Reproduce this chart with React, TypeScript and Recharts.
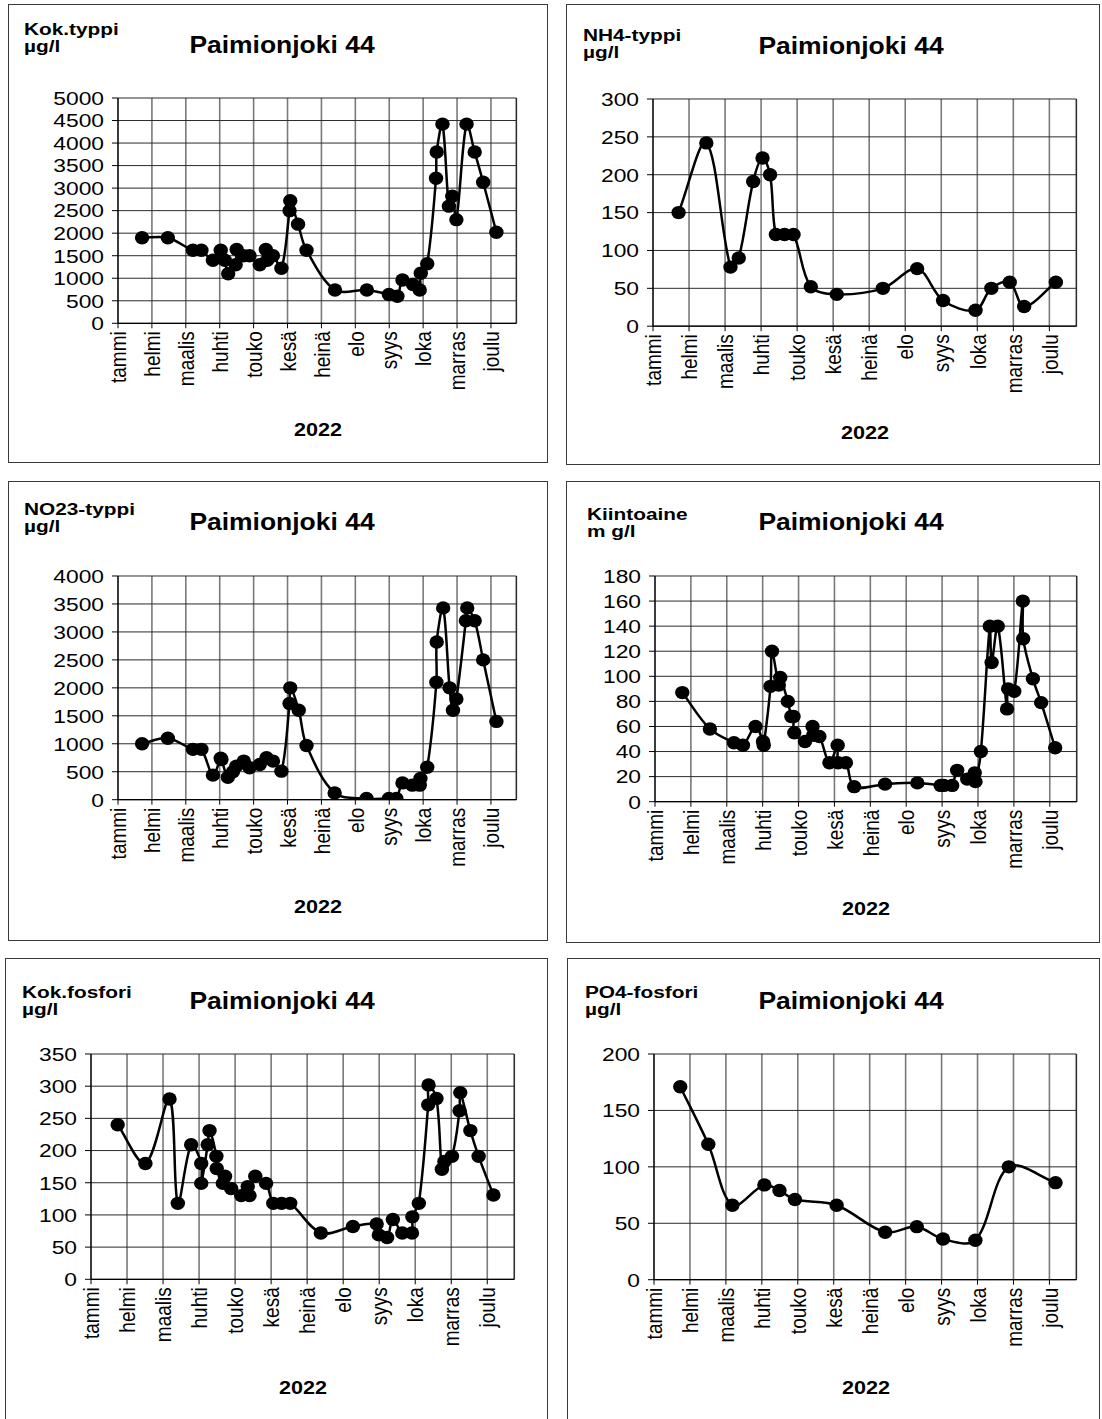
import React from 'react';
import { LineChart, Line, XAxis, YAxis, CartesianGrid, ReferenceLine } from 'recharts';

// ---------- shared labels ----------
const months = ['tammi', 'helmi', 'maalis', 'huhti', 'touko', 'kesä', 'heinä', 'elo', 'syys', 'loka', 'marras', 'joulu'];
const monthTicks = [0, 1, 2, 3, 4, 5, 6, 7, 8, 9, 10, 11];
const X_MAX = 11.75;
const stationTitle = 'Paimionjoki 44';
const yearLabel = '2022';

// ---------- Kok.typpi (µg/l) ----------
const kokTyppiX = [0.71, 1.47, 2.21, 2.46, 2.80, 3.03, 3.15, 3.25, 3.47, 3.50, 3.70, 3.88, 4.18, 4.36, 4.40, 4.57, 4.82, 5.06, 5.08, 5.31, 5.56, 6.40, 7.34, 7.99, 8.24, 8.39, 8.70, 8.90, 8.93, 9.12, 9.38, 9.40, 9.57, 9.76, 9.86, 9.98, 10.28, 10.52, 10.77, 11.16];
const kokTyppiY = [1900, 1900, 1620, 1620, 1400, 1620, 1400, 1100, 1300, 1640, 1500, 1500, 1300, 1640, 1400, 1500, 1220, 2500, 2720, 2200, 1620, 740, 740, 640, 600, 960, 860, 740, 1110, 1320, 3220, 3800, 4420, 2600, 2820, 2300, 4420, 3800, 3130, 2020];
const kokTyppiTicks = [0, 500, 1000, 1500, 2000, 2500, 3000, 3500, 4000, 4500, 5000];

// ---------- NH4-typpi (µg/l) ----------
const nh4X = [0.71, 1.48, 2.15, 2.38, 2.78, 3.04, 3.25, 3.41, 3.65, 3.90, 4.38, 5.10, 6.38, 7.33, 8.05, 8.95, 9.39, 9.90, 10.30, 11.18];
const nh4Y = [150, 242, 78, 90, 191, 222, 200, 121, 121, 121, 52, 42, 50, 76, 34, 21, 50, 58, 26, 58];
const nh4Ticks = [0, 50, 100, 150, 200, 250, 300];

// ---------- NO23-typpi (µg/l) ----------
const no23X = [0.71, 1.47, 2.21, 2.46, 2.80, 3.03, 3.05, 3.24, 3.39, 3.49, 3.71, 3.88, 4.18, 4.38, 4.57, 4.82, 5.06, 5.08, 5.33, 5.56, 6.39, 7.33, 7.99, 8.21, 8.39, 8.68, 8.90, 8.92, 9.12, 9.39, 9.40, 9.59, 9.78, 9.88, 9.98, 10.26, 10.30, 10.52, 10.77, 11.16];
const no23Y = [1000, 1100, 900, 900, 440, 740, 720, 400, 500, 600, 690, 570, 630, 750, 690, 510, 1720, 2000, 1600, 970, 120, 20, 20, 20, 300, 260, 260, 380, 580, 2100, 2820, 3430, 2000, 1600, 1800, 3200, 3430, 3200, 2500, 1400];
const no23Ticks = [0, 500, 1000, 1500, 2000, 2500, 3000, 3500, 4000];

// ---------- Kiintoaine (mg/l) ----------
const kiintoX = [0.76, 1.53, 2.20, 2.45, 2.80, 3.01, 3.03, 3.22, 3.26, 3.45, 3.49, 3.70, 3.80, 3.86, 3.88, 4.18, 4.39, 4.41, 4.58, 4.86, 5.09, 5.10, 5.32, 5.55, 6.41, 7.31, 7.96, 8.05, 8.28, 8.42, 8.70, 8.91, 8.93, 9.08, 9.33, 9.38, 9.55, 9.81, 9.84, 10.01, 10.25, 10.26, 10.53, 10.76, 11.15];
const kiintoY = [87, 58, 47, 45, 60, 48, 45, 92, 120, 93, 99, 80, 68, 68, 55, 48, 60, 53, 52, 31, 45, 31, 31, 12, 14, 15, 13, 13, 13, 25, 18, 23, 16, 40, 140, 111, 140, 74, 90, 88, 160, 130, 98, 79, 43];
const kiintoTicks = [0, 20, 40, 60, 80, 100, 120, 140, 160, 180];

// ---------- Kok.fosfori (µg/l) ----------
const kokFosforiX = [0.74, 1.51, 2.18, 2.41, 2.78, 3.06, 3.06, 3.24, 3.29, 3.48, 3.49, 3.66, 3.72, 3.89, 4.17, 4.35, 4.40, 4.56, 4.86, 5.06, 5.29, 5.53, 6.38, 7.27, 7.93, 7.99, 8.22, 8.38, 8.64, 8.91, 8.92, 9.10, 9.36, 9.37, 9.59, 9.74, 9.81, 10.02, 10.23, 10.25, 10.53, 10.76, 11.17];
const kokFosforiY = [240, 180, 280, 118, 209, 180, 149, 209, 231, 191, 172, 149, 160, 141, 130, 144, 130, 160, 149, 118, 118, 118, 72, 82, 86, 69, 65, 93, 72, 72, 97, 118, 271, 302, 281, 171, 183, 191, 262, 290, 231, 191, 131];
const kokFosforiTicks = [0, 50, 100, 150, 200, 250, 300, 350];

// ---------- PO4-fosfori (µg/l) ----------
const po4X = [0.73, 1.51, 2.18, 3.07, 3.49, 3.92, 5.08, 6.43, 7.31, 8.04, 8.94, 9.87, 11.17];
const po4Y = [171, 120, 66, 84, 79, 71, 66, 42, 47, 36, 35, 100, 86];
const po4Ticks = [0, 50, 100, 150, 200];

const zip = (xs: number[], ys: number[]) => xs.map((x, i) => ({ x, y: ys[i] }));

// Excel-like smoothed line (Bezier through points, length-weighted tangents)
function excelSmooth(context: any) {
  let px: number[] = [];
  let py: number[] = [];
  return {
    areaStart() {},
    areaEnd() {},
    lineStart() { px = []; py = []; },
    lineEnd() {
      const n = px.length;
      if (!n) return;
      context.moveTo(px[0], py[0]);
      if (n === 1) return;
      const d = (i: number, j: number) => Math.hypot(px[j] - px[i], py[j] - py[i]);
      for (let i = 0; i < n - 1; i++) {
        const a = Math.max(0, i - 1);
        const b = i + 1;
        const c = Math.min(n - 1, i + 2);
        const seg = d(i, b);
        const dPrev = d(a, i);
        const w1 = dPrev + seg > 0 ? seg / (dPrev + seg) : 0;
        const c1x = px[i] + ((px[b] - px[a]) * w1) / 3;
        const c1y = py[i] + ((py[b] - py[a]) * w1) / 3;
        const dNext = d(b, c);
        const w2 = seg + dNext > 0 ? seg / (seg + dNext) : 0;
        const c2x = px[b] - ((px[c] - px[i]) * w2) / 3;
        const c2y = py[b] - ((py[c] - py[i]) * w2) / 3;
        context.bezierCurveTo(c1x, c1y, c2x, c2y, px[b], py[b]);
      }
    },
    point(x: number, y: number) { px.push(+x); py.push(+y); },
  };
}

const FONT = '"Liberation Sans", Arial, Helvetica, sans-serif';
const SX = 1.2;
const TICK_FONT = 19;
const UNIT_FONT = 16;
const UNIT_SX = 1.3;

type Rect = { l: number; t: number; r: number; b: number };
type PanelCfg = {
  key: string;
  unit1: string;
  unit2: string;
  data: { x: number; y: number }[];
  ticks: number[];
  box: Rect;
  plot: Rect;
  unitAt: [number, number, number];
  titleAt: [number, number];
  yearAt: [number, number];
};

const panels: PanelCfg[] = [
  { key: 'p1', unit1: 'Kok.typpi', unit2: 'µg/l', data: zip(kokTyppiX, kokTyppiY), ticks: kokTyppiTicks,
    box: { l: 8, t: 4, r: 548, b: 463 }, plot: { l: 118.3, t: 98, r: 516.7, b: 323.3 },
    unitAt: [24, 30, 46.5], titleAt: [282, 45], yearAt: [318, 430] },
  { key: 'p2', unit1: 'NH4-typpi', unit2: 'µg/l', data: zip(nh4X, nh4Y), ticks: nh4Ticks,
    box: { l: 566, t: 4, r: 1100, b: 465 }, plot: { l: 653.3, t: 98.5, r: 1076.7, b: 325.7 },
    unitAt: [583, 36, 52.5], titleAt: [851, 46], yearAt: [865, 433] },
  { key: 'p3', unit1: 'NO23-typpi', unit2: 'µg/l', data: zip(no23X, no23Y), ticks: no23Ticks,
    box: { l: 8, t: 481, r: 548, b: 941 }, plot: { l: 118.3, t: 576.3, r: 516.7, b: 800 },
    unitAt: [24, 510, 527], titleAt: [282, 522], yearAt: [318, 907] },
  { key: 'p4', unit1: 'Kiintoaine', unit2: 'm g/l', data: zip(kiintoX, kiintoY), ticks: kiintoTicks,
    box: { l: 566, t: 481, r: 1100, b: 943 }, plot: { l: 655, t: 576, r: 1076.7, b: 801.7 },
    unitAt: [587, 515, 531.5], titleAt: [851, 522], yearAt: [866, 909] },
  { key: 'p5', unit1: 'Kok.fosfori', unit2: 'µg/l', data: zip(kokFosforiX, kokFosforiY), ticks: kokFosforiTicks,
    box: { l: 5, t: 958, r: 548, b: 1430 }, plot: { l: 91, t: 1054, r: 514.3, b: 1279.3 },
    unitAt: [22, 993, 1010], titleAt: [282, 1001], yearAt: [303, 1388] },
  { key: 'p6', unit1: 'PO4-fosfori', unit2: 'µg/l', data: zip(po4X, po4Y), ticks: po4Ticks,
    box: { l: 567, t: 958, r: 1100, b: 1430 }, plot: { l: 654.3, t: 1054, r: 1076.7, b: 1279.7 },
    unitAt: [585, 993, 1010], titleAt: [851, 1001], yearAt: [866, 1388] },
];

const YTick = (props: any) => {
  const { x, y, payload } = props;
  return (
    <g transform={`translate(${x},${y})`}>
      <text transform={`scale(${SX},1)`} textAnchor="end" dy="0.36em" fontSize={TICK_FONT} fontFamily={FONT} fill="#000">
        {payload.value}
      </text>
    </g>
  );
};

const XTick = (props: any) => {
  const { x, y, payload } = props;
  return (
    <g transform={`translate(${x},${y}) scale(${SX},1) rotate(-90)`}>
      <text textAnchor="end" dy="0.36em" fontSize={TICK_FONT} fontFamily={FONT} fill="#000">
        {months[payload.value]}
      </text>
    </g>
  );
};

const Marker = (props: any) => {
  const { cx, cy, index } = props;
  if (cx == null || cy == null) return <g key={`m${index}`} />;
  return <ellipse key={`m${index}`} cx={cx} cy={cy} rx={7.2} ry={6.7} fill="#000" />;
};

const textBase: React.CSSProperties = {
  position: 'absolute',
  whiteSpace: 'nowrap',
  lineHeight: 1,
  fontFamily: FONT,
  fontWeight: 700,
  color: '#000',
};

function Panel({ cfg }: { cfg: PanelCfg }) {
  const { box, plot, ticks } = cfg;
  const YW = 80;
  const MT = 10;
  const MR = 10;
  const XH = 80;
  const plotW = plot.r - plot.l;
  const plotH = plot.b - plot.t;
  const chartW = YW + plotW + MR;
  const chartH = MT + plotH + XH;
  const yMax = ticks[ticks.length - 1];
  const unitStyle: React.CSSProperties = {
    ...textBase,
    fontSize: UNIT_FONT,
    transformOrigin: '0 50%',
    transform: `translate(0,-50%) scaleX(${UNIT_SX})`,
  };
  return (
    <>
      <div
        style={{
          position: 'absolute',
          left: box.l,
          top: box.t,
          width: box.r - box.l,
          height: box.b - box.t,
          border: '1px solid #3a3a3a',
          boxSizing: 'border-box',
          background: '#fff',
        }}
      />
      <div style={{ position: 'absolute', left: plot.l - YW, top: plot.t - MT }}>
        <LineChart width={chartW} height={chartH} data={cfg.data} margin={{ top: MT, right: MR, bottom: 0, left: 0 }}>
          <CartesianGrid horizontal={false} stroke="#7a7a7a" strokeWidth={1.6} />
          <CartesianGrid vertical={false} stroke="#2a2a2a" strokeWidth={1} />
          <ReferenceLine x={X_MAX} stroke="#2a2a2a" strokeWidth={1.2} ifOverflow="visible" />
          <XAxis
            type="number"
            dataKey="x"
            domain={[0, X_MAX]}
            ticks={monthTicks}
            interval={0}
            allowDataOverflow
            height={XH}
            tickSize={5}
            tickMargin={3}
            axisLine={{ stroke: '#000', strokeWidth: 1.2 }}
            tickLine={{ stroke: '#000', strokeWidth: 1 }}
            tick={(p: any) => <XTick {...p} />}
          />
          <YAxis
            type="number"
            domain={[0, yMax]}
            ticks={ticks}
            interval={0}
            allowDataOverflow
            width={YW}
            tickSize={6}
            tickMargin={8}
            axisLine={{ stroke: '#000', strokeWidth: 1.2 }}
            tickLine={{ stroke: '#000', strokeWidth: 1 }}
            tick={(p: any) => <YTick {...p} />}
          />
          <Line
            dataKey="y"
            type={excelSmooth as any}
            stroke="#000"
            strokeWidth={2.5}
            dot={(p: any) => <Marker {...p} />}
            activeDot={false}
            isAnimationActive={false}
          />
        </LineChart>
      </div>
      <div style={{ ...unitStyle, left: cfg.unitAt[0], top: cfg.unitAt[1] }}>{cfg.unit1}</div>
      <div style={{ ...unitStyle, left: cfg.unitAt[0], top: cfg.unitAt[2] }}>{cfg.unit2}</div>
      <div
        style={{
          ...textBase,
          left: cfg.titleAt[0],
          top: cfg.titleAt[1],
          fontSize: 23,
          transform: `translate(-50%,-50%) scaleX(1.15)`,
        }}
      >
        {stationTitle}
      </div>
      <div
        style={{
          ...textBase,
          left: cfg.yearAt[0],
          top: cfg.yearAt[1],
          fontSize: 18,
          transform: `translate(-50%,-50%) scaleX(${SX})`,
        }}
      >
        {yearLabel}
      </div>
    </>
  );
}

export default function App() {
  return (
    <div
      style={{
        position: 'absolute',
        left: 0,
        top: 0,
        width: 1102,
        height: 1419,
        overflow: 'hidden',
        background: '#fff',
      }}
    >
      {panels.map((cfg) => (
        <Panel key={cfg.key} cfg={cfg} />
      ))}
    </div>
  );
}
